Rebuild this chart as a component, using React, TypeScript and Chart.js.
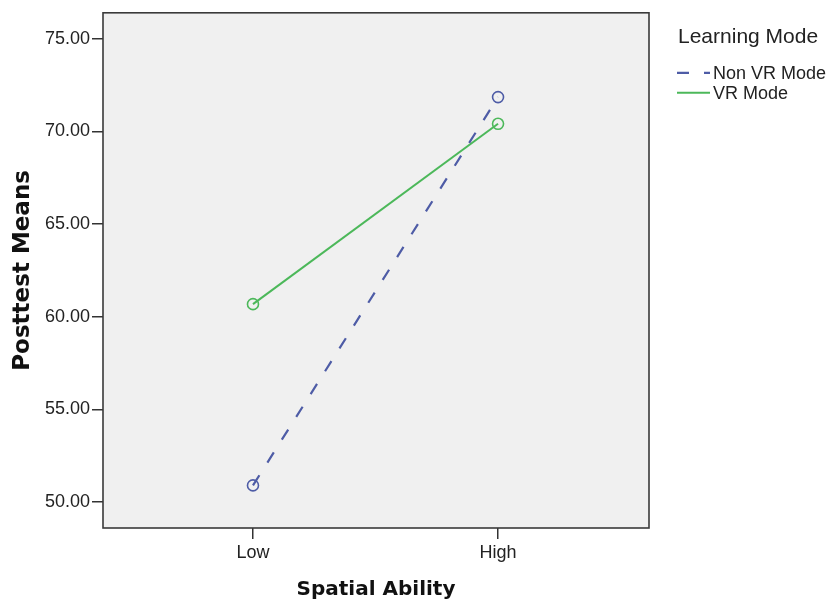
import React, { useEffect, useRef } from "react";
import { Chart, registerables } from "chart.js";

Chart.register(...registerables);

const categories = ["Low", "High"];
const nonVRMeans = [50.9, 71.85];
const vrMeans = [60.68, 70.41];
const yTicks = [50, 55, 60, 65, 70, 75];
const seriesNames = ["Non VR Mode", "VR Mode"];
const legendTitle = "Learning Mode";
const xTitle = "Spatial Ability";
const yTitle = "Posttest Means";

const BLUE = "#4e5ca6";
const GREEN = "#4cb85a";

export default function App() {
  const ref = useRef<HTMLCanvasElement | null>(null);

  useEffect(() => {
    document.body.style.margin = "0";
    const canvas = ref.current;
    if (!canvas) return;

    const frame = {
      id: "frame",
      beforeDraw(chart: any) {
        const { ctx, chartArea: a } = chart;
        ctx.save();
        ctx.fillStyle = "#f0f0f0";
        ctx.fillRect(a.left, a.top, a.right - a.left, a.bottom - a.top);
        ctx.restore();
      },
      afterDraw(chart: any) {
        const { ctx, chartArea: a } = chart;
        ctx.save();
        ctx.strokeStyle = "#3a3a3a";
        ctx.lineWidth = 1.6;
        ctx.strokeRect(a.left, a.top, a.right - a.left, a.bottom - a.top);
        // legend
        const x0 = a.right + 29;
        ctx.fillStyle = "#222";
        ctx.textBaseline = "middle";
        ctx.textAlign = "left";
        ctx.font = "21px 'Liberation Sans', Arial, sans-serif";
        ctx.fillText(legendTitle, x0, a.top + 24);
        ctx.font = "18px 'Liberation Sans', Arial, sans-serif";
        chart.data.datasets.forEach((ds: any, i: number) => {
          const y = a.top + 60 + i * 20;
          ctx.save();
          ctx.strokeStyle = ds.borderColor;
          ctx.lineWidth = ds.borderWidth;
          ctx.setLineDash(ds.borderDash || []);
          ctx.beginPath();
          ctx.moveTo(x0 - 1, y);
          ctx.lineTo(x0 + 32, y);
          ctx.stroke();
          ctx.restore();
          ctx.fillStyle = "#222";
          ctx.fillText(ds.label, x0 + 35, y + 1);
        });
        ctx.restore();
      },
    };

    const chart = new Chart(canvas, {
      type: "line",
      data: {
        datasets: [
          {
            label: seriesNames[0],
            data: categories.map((_, i) => ({ x: i, y: nonVRMeans[i] })),
            borderColor: BLUE,
            borderWidth: 2.2,
            borderDash: [12, 15],
            pointStyle: "circle",
            pointRadius: 5.5,
            pointBorderWidth: 1.6,
            pointBorderColor: BLUE,
            pointBackgroundColor: "rgba(0,0,0,0)",
            fill: false,
          },
          {
            label: seriesNames[1],
            data: categories.map((_, i) => ({ x: i, y: vrMeans[i] })),
            borderColor: GREEN,
            borderWidth: 2,
            borderDash: [],
            pointStyle: "circle",
            pointRadius: 5.5,
            pointBorderWidth: 1.6,
            pointBorderColor: GREEN,
            pointBackgroundColor: "rgba(0,0,0,0)",
            fill: false,
          },
        ],
      },
      options: {
        responsive: false,
        animation: false,
        devicePixelRatio: 1,
        layout: { padding: { top: 11, right: 182, left: 0, bottom: 0 } },
        plugins: { legend: { display: false }, tooltip: { enabled: false } },
        scales: {
          x: {
            type: "linear",
            min: -0.612,
            max: 1.616,
            afterFit: (s: any) => {
              s.height = 80;
            },
            afterBuildTicks: (s: any) => {
              s.ticks = categories.map((_, i) => ({ value: i }));
            },
            grid: {
              drawOnChartArea: false,
              drawTicks: true,
              tickLength: 11,
              color: "#333",
              lineWidth: 1.5,
            },
            border: { display: false },
            ticks: {
              color: "#222",
              padding: 3,
              font: { family: "'Liberation Sans', Arial, sans-serif", size: 18 },
              callback: (v: any) => categories[v] ?? "",
            },
            title: {
              display: true,
              text: xTitle,
              color: "#111",
              font: { family: "'DejaVu Sans', sans-serif", size: 20, weight: "bold" },
              padding: { top: 0, bottom: 6 },
            },
          },
          y: {
            type: "linear",
            min: 48.6,
            max: 76.4,
            afterFit: (s: any) => {
              s.width = 103;
            },
            afterBuildTicks: (s: any) => {
              s.ticks = yTicks.map((v) => ({ value: v }));
            },
            grid: {
              drawOnChartArea: false,
              drawTicks: true,
              tickLength: 11,
              color: "#333",
              lineWidth: 1.5,
            },
            border: { display: false },
            ticks: {
              color: "#222",
              padding: 2,
              font: { family: "'Liberation Sans', Arial, sans-serif", size: 18 },
              callback: (v: any) => Number(v).toFixed(2),
            },
            title: {
              display: true,
              text: yTitle,
              color: "#111",
              font: { family: "'DejaVu Sans', sans-serif", size: 23, weight: "bold" },
              padding: { top: 9, bottom: 0 },
            },
          },
        },
      },
      plugins: [frame],
    });

    return () => chart.destroy();
  }, []);

  return (
    <div style={{ width: 831, height: 608, background: "#fff" }}>
      <canvas ref={ref} width={831} height={608} style={{ display: "block" }} />
    </div>
  );
}
